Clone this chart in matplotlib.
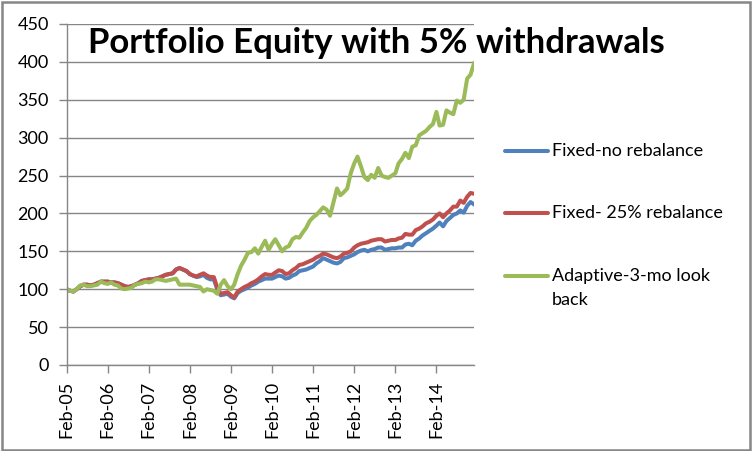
import pandas as pd
import matplotlib.pyplot as plt
from matplotlib.lines import Line2D
from matplotlib.patches import Rectangle

plt.rcParams['font.family'] = ['Lato', 'DejaVu Sans']

# monthly equity, Feb-05 .. Jan-15
months = pd.date_range('2005-02-01', periods=120, freq='MS')

fixed_no_rebal = [
    100, 98, 97, 100, 104, 106, 106, 105, 106, 108, 110, 110,
    110, 109, 109, 108, 106, 104, 103, 104, 106, 108, 111, 112,
    113, 113, 114, 115, 117, 119, 120, 121, 126, 128, 126, 124,
    120, 118, 116, 117, 119, 115, 113, 113, 100, 92, 93, 94,
    90, 88, 95, 98, 100, 102, 105, 107, 110, 112, 114, 114,
    114, 116, 118, 117, 114, 115, 118, 120, 124, 125, 126, 128,
    130, 134, 137, 141, 139, 137, 135, 134, 136, 141, 142, 144,
    146, 149, 151, 152, 150, 152, 153, 155, 155, 152, 153, 154,
    154, 155, 155, 159, 160, 158, 164, 167, 171, 174, 177, 180,
    184, 188, 183, 190, 194, 198, 200, 204, 201, 210, 215, 212,
]

fixed_25_rebal = [
    100, 98, 97, 100, 104, 106, 106, 105, 106, 108, 110, 110,
    110, 109, 109, 108, 106, 104, 103, 104, 106, 108, 111, 112,
    113, 113, 114, 115, 117, 119, 120, 121, 126, 128, 126, 124,
    120, 118, 117, 119, 121, 118, 116, 116, 102, 94, 95, 96,
    92, 89, 97, 100, 103, 105, 108, 110, 113, 117, 120, 119,
    119, 122, 125, 124, 120, 121, 125, 128, 132, 133, 135, 137,
    139, 142, 144, 147, 146, 144, 142, 141, 143, 147, 148, 150,
    155, 158, 160, 161, 162, 164, 165, 166, 166, 163, 164, 165,
    165, 167, 168, 173, 172, 172, 178, 180, 183, 187, 189, 192,
    197, 200, 195, 200, 204, 209, 209, 217, 214, 222, 227, 226,
]

adaptive_3mo = [
    100, 98, 97, 100, 105, 106, 104, 104, 105, 106, 110, 108,
    107, 109, 106, 105, 101, 100, 101, 102, 106, 107, 108, 110,
    109, 110, 113, 113, 112, 111, 112, 113, 114, 106, 106, 106,
    106, 105, 104, 103, 97, 100, 99, 98, 94, 106, 112, 104,
    100, 106, 120, 131, 139, 148, 149, 154, 147, 156, 164, 152,
    160, 166, 158, 150, 155, 157, 166, 169, 168, 175, 181, 190,
    195, 198, 203, 208, 205, 197, 215, 233, 224, 228, 233, 253,
    266, 275, 262, 248, 244, 251, 247, 260, 250, 248, 247, 250,
    253, 266, 272, 280, 273, 288, 290, 303, 306, 309, 314, 318,
    334, 316, 317, 336, 333, 331, 349, 346, 350, 378, 383, 398,
]

series = [
    (['Fixed-no rebalance'], fixed_no_rebal, '#4F81BD'),
    (['Fixed- 25% rebalance'], fixed_25_rebal, '#C0504D'),
    (['Adaptive-3-mo look', 'back'], adaptive_3mo, '#9BBB59'),
]

tick_dates = pd.date_range('2005-02-01', periods=10, freq='12MS')
tick_labels = ['Feb-05', 'Feb-06', 'Feb-07', 'Feb-08', 'Feb-09',
               'Feb-10', 'Feb-11', 'Feb-12', 'Feb-13', 'Feb-14']

grey = '#868686'

fig = plt.figure(figsize=(7.53, 4.51), dpi=100)
ax = fig.add_axes([0.0886, 0.1907, 0.5409, 0.7561])

for name, vals, col in series:
    ax.plot(months, vals, color=col, lw=2.9, solid_joinstyle='round')

ax.set_xlim(months[0], months[-1])
ax.set_ylim(0, 450)
ax.set_yticks(range(0, 451, 50))
ax.yaxis.grid(True, color=grey, lw=1)
ax.set_axisbelow(True)
ax.set_xticks(tick_dates)
ax.set_xticklabels(tick_labels, rotation=90)

for s in ['top', 'right']:
    ax.spines[s].set_visible(False)
for s in ['left', 'bottom']:
    ax.spines[s].set_color(grey)
    ax.spines[s].set_linewidth(1)
ax.tick_params(axis='both', colors=grey, labelcolor='black', labelsize=13,
               length=5.5, width=1)
ax.tick_params(axis='y', pad=7.5)
ax.tick_params(axis='x', pad=6)

fig.text(0.5, 0.882, 'Portfolio Equity with 5% withdrawals',
         ha='center', va='baseline', fontsize=25, fontweight='bold')

# legend at the right of the plot, handle level with the first text line
leg_y = [1 - 151 / 451, 1 - 213 / 451, 1 - 276 / 451]
for (lines, vals, col), y in zip(series, leg_y):
    fig.add_artist(Line2D([505 / 753, 548 / 753], [y, y], color=col,
                          lw=2.9, solid_capstyle='round'))
    for i, txt in enumerate(lines):
        fig.text(552 / 753, y - i * 24 / 451, txt, ha='left', va='center', fontsize=13)

fig.add_artist(Rectangle((0.003, 0.003), 0.993, 0.993, transform=fig.transFigure,
                         fill=False, edgecolor=grey, lw=1.8))

fig.savefig('out.png', dpi=100)
